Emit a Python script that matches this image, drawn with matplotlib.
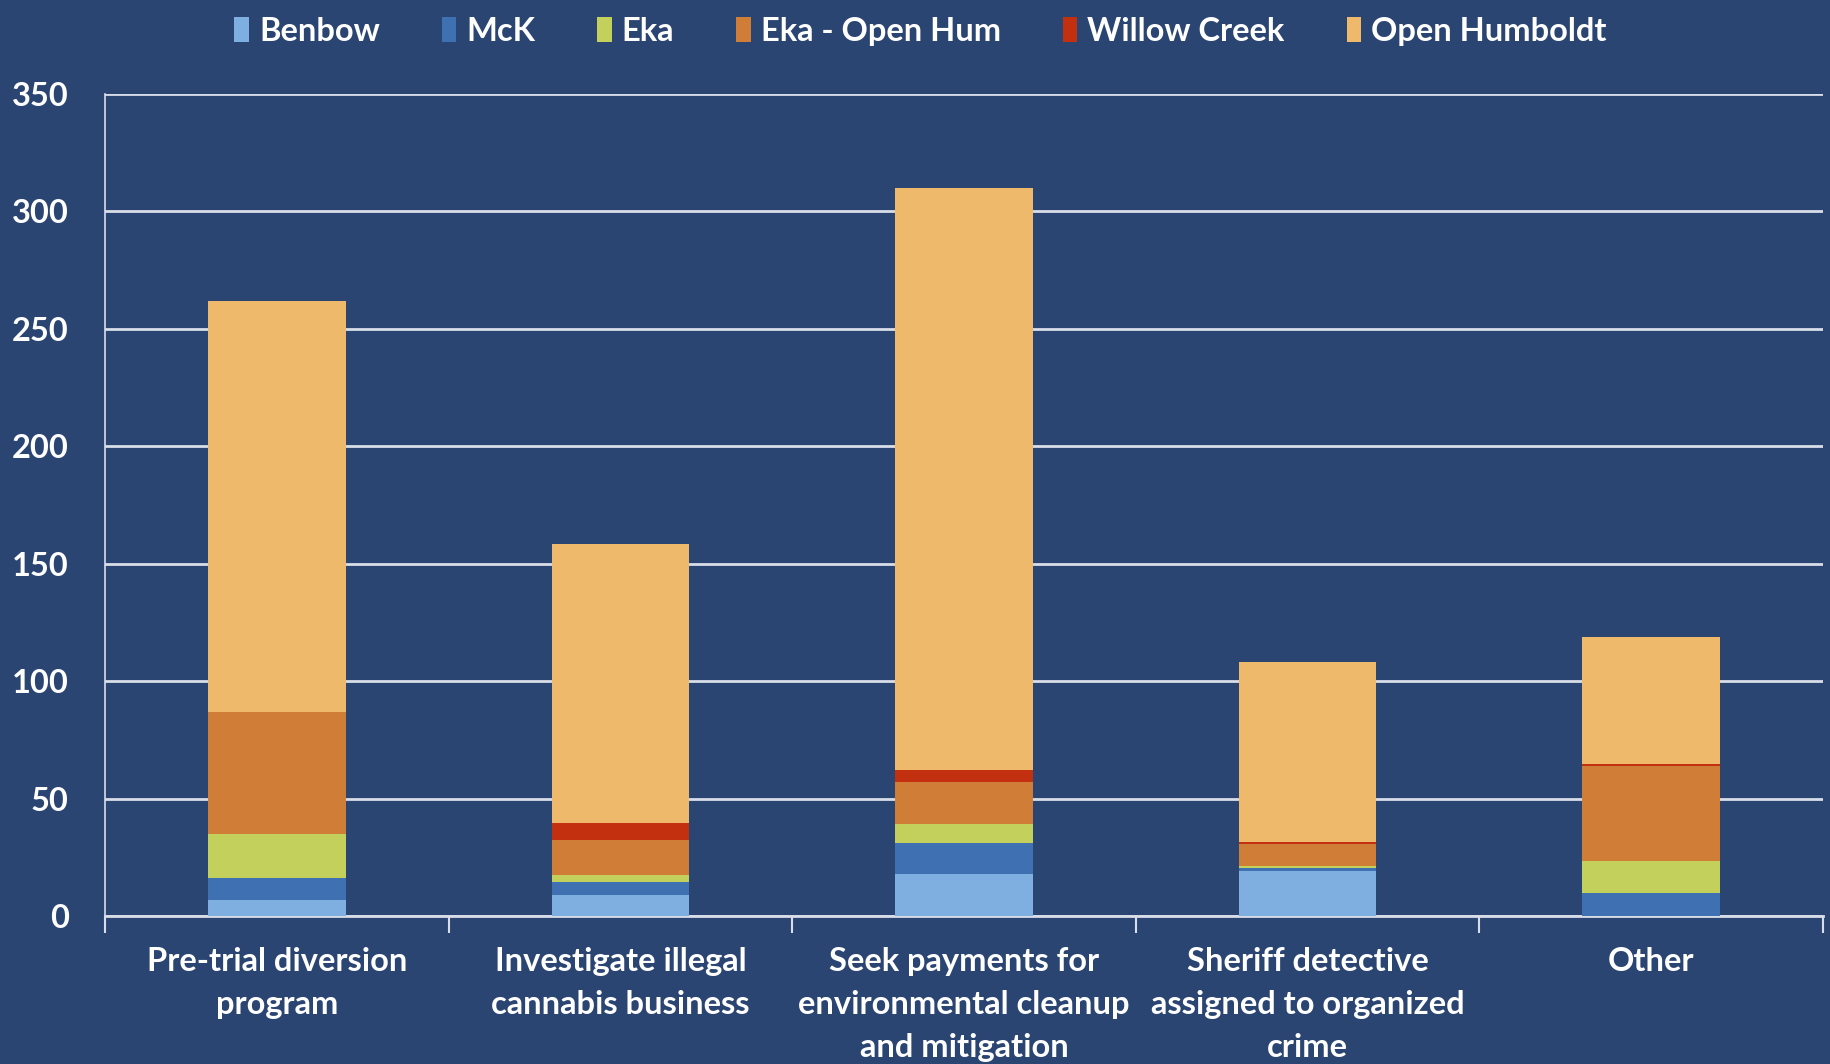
import numpy as np
import matplotlib.pyplot as plt

categories = ['Pre-trial diversion\nprogram', 'Investigate illegal\ncannabis business',
              'Seek payments for\nenvironmental cleanup\nand mitigation',
              'Sheriff detective\nassigned to organized\ncrime', 'Other']
series = ['Benbow', 'McK', 'Eka', 'Eka - Open Hum', 'Willow Creek', 'Open Humboldt']
benbow = [7, 9, 18, 19, 0]
mck = [9, 5.5, 13, 1.5, 10]
eka = [19, 3, 8, 1, 13.5]
eka_open = [52, 15, 18, 9, 40.5]
willow = [0, 7, 5, 0.8, 0.7]
open_hum = [175, 119, 248, 77, 54]

colors = ['#7eafe0', '#3f70b2', '#c4d05c', '#d07d38', '#c2300f', '#eeb96b']
bg = '#2b4573'
grid_col = '#d8dde8'

plt.rcParams['font.family'] = ['Lato', 'DejaVu Sans']
plt.rcParams['font.weight'] = 'bold'

fig = plt.figure(figsize=(18.3, 10.64), dpi=100, facecolor=bg)
ax = fig.add_axes([105 / 1830, 1 - 916 / 1064, 1718 / 1830, 822 / 1064])
ax.set_facecolor(bg)

x = np.arange(len(categories))
bottom = np.zeros(len(categories))
for name, vals, c in zip(series, [benbow, mck, eka, eka_open, willow, open_hum], colors):
    ax.bar(x, vals, 0.4, bottom=bottom, color=c, label=name, zorder=3)
    bottom += np.array(vals)

ax.set_xlim(-0.5, 4.5)
ax.set_ylim(0, 350)
ax.set_yticks(range(0, 351, 50))
ax.yaxis.grid(True, color=grid_col, linewidth=2, zorder=1)
ax.set_axisbelow(True)

for s in ['top', 'right']:
    ax.spines[s].set_visible(False)
ax.spines['left'].set_color(grid_col)
ax.spines['left'].set_linewidth(1.2)
ax.spines['bottom'].set_color(grid_col)
ax.spines['bottom'].set_linewidth(2)

ax.set_xticks(x)
ax.set_xticklabels(categories, color='white', fontsize=23.5, fontweight='bold', linespacing=1.6)
ax.set_xticks(np.arange(-0.5, 5, 1), minor=True)
ax.tick_params(axis='x', which='major', length=0, pad=22)
ax.tick_params(axis='x', which='minor', length=12, width=1.5, color=grid_col, direction='out')
ax.tick_params(axis='y', length=0, pad=26, labelsize=23.5, labelcolor='white')
for t in ax.get_yticklabels():
    t.set_fontweight('bold')

leg = fig.legend(loc='upper center', bbox_to_anchor=(0.503, 1.012), ncol=6, frameon=False,
                 fontsize=23.5, handlelength=0.45, handleheight=0.8, handletextpad=0.3,
                 columnspacing=1.9, labelcolor='white')
for t in leg.get_texts():
    t.set_fontweight('bold')

fig.savefig('out.png', dpi=100, facecolor=bg)
